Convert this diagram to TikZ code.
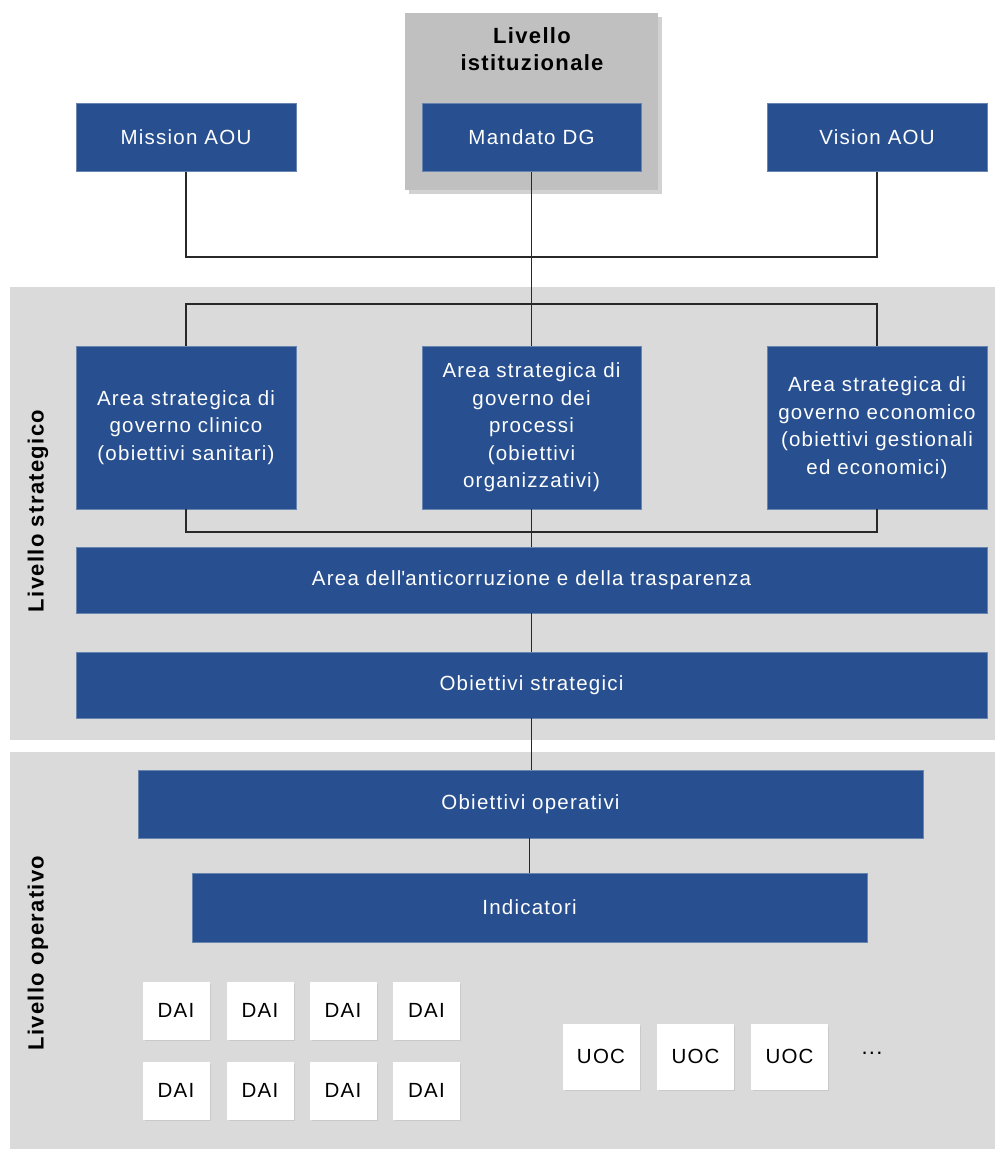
\documentclass[tikz,border=0pt]{standalone}
\usepackage{fontspec}
\setmainfont{Liberation Sans}[LetterSpace=6]
\newfontface\straightap{Liberation Sans}[LetterSpace=6, Ligatures=ResetAll]
\usetikzlibrary{shadows}
\definecolor{boxblue}{RGB}{40,80,144}
\definecolor{regiongray}{RGB}{218,218,218}
\definecolor{instgray}{RGB}{192,192,192}
\definecolor{linegray}{RGB}{40,40,40}
\tikzset{
  bluebox/.style={fill=boxblue, draw=boxblue!70!white, line width=0.6pt, text=white, inner sep=0pt, align=center,
    font=\fontsize{20.5}{27.5}\selectfont},
  whitebox/.style={fill=white, draw=white, inner sep=0pt, text=black, font=\fontsize{20.5}{24}\selectfont,
    drop shadow={opacity=0.18, shadow xshift=1.5pt, shadow yshift=-1.5pt}},
  region/.style={fill=regiongray, draw=none},
  conn/.style={draw=linegray, line width=1.2pt},
  levellabel/.style={font=\bfseries\fontsize{22}{27}\selectfont, text=black, align=center, inner sep=0pt}
}
\begin{document}
\begin{tikzpicture}[x=1pt, y=-1pt]
\useasboundingbox[fill=white] (0,0) rectangle (995,1149);

% regions
\path[region] (10,287) rectangle (995,740);
\path[region] (10,752) rectangle (995,1149);

% institutional box
\node[fill=instgray, inner sep=0pt, minimum width=253pt, minimum height=177pt,
      drop shadow={opacity=0.35, shadow xshift=4pt, shadow yshift=-4pt}] (inst) at (531.5,101.5) {};
\node[levellabel] (instlabel) at (532,49) {Livello\\istituzionale};

% top boxes
\node[bluebox, minimum width=220pt, minimum height=68pt] (mission) at (186,137.5) {Mission AOU};
\node[bluebox, minimum width=219pt, minimum height=68pt] (mandato) at (531.5,137.5) {Mandato DG};
\node[bluebox, minimum width=220pt, minimum height=68pt] (vision) at (877,137.5) {Vision AOU};

% strategic area boxes
\node[bluebox, minimum width=220pt, minimum height=163pt] (clin) at (186,427.5) {Area strategica di\\governo clinico\\(obiettivi sanitari)};
\node[bluebox, minimum width=219pt, minimum height=163pt] (proc) at (531.5,427.5) {Area strategica di\\governo dei\\processi\\(obiettivi\\organizzativi)};
\node[bluebox, minimum width=220pt, minimum height=163pt] (econ) at (877,427.5) {Area strategica di\\governo economico\\(obiettivi gestionali\\ed economici)};

% bars
\node[bluebox, minimum width=911pt, minimum height=66pt] (anti) at (531.5,580) {Area dell{\straightap '}anticorruzione e della trasparenza};
\node[bluebox, minimum width=911pt, minimum height=66pt] (ostrat) at (531.5,685) {Obiettivi strategici};
\node[bluebox, minimum width=785pt, minimum height=68pt] (ooper) at (530.5,804) {Obiettivi operativi};
\node[bluebox, minimum width=675pt, minimum height=69pt] (ind) at (529.5,907.5) {Indicatori};

% coordinates for buses
\coordinate (b1l) at (186,257);
\coordinate (b1r) at (877,257);
\coordinate (b2l) at (186,304);
\coordinate (b2r) at (877,304);
\coordinate (b2c) at (531.5,304);
\coordinate (b3l) at (186,532);
\coordinate (b3r) at (877,532);

% connectors
\draw[conn] (mission.south) -- (b1l) -- (b1r) -- (vision.south);
\draw[conn] (mandato.south) -- (b2c);
\draw[conn] (clin.north) -- (b2l) -- (b2r) -- (econ.north);
\draw[conn] (b2c) -- (proc.north);
\draw[conn] (clin.south) -- (b3l) -- (b3r) -- (econ.south);
\draw[conn] (proc.south) -- (anti.north);
\draw[conn] (anti.south) -- (ostrat.north);
\draw[conn] (ostrat.south) -- (ooper.north -| ostrat.south);
\draw[conn] (ooper.south -| ind.north) -- (ind.north);

% level labels
\node[levellabel, rotate=90] (lstrat) at (38,511) {Livello strategico};
\node[levellabel, rotate=90] (loper) at (38,953) {Livello operativo};

% DAI boxes
\node[whitebox, minimum width=66pt, minimum height=57pt] (dai1) at (176,1010.5) {DAI};
\node[whitebox, minimum width=66pt, minimum height=57pt] (dai2) at (260,1010.5) {DAI};
\node[whitebox, minimum width=66pt, minimum height=57pt] (dai3) at (343,1010.5) {DAI};
\node[whitebox, minimum width=66pt, minimum height=57pt] (dai4) at (426.5,1010.5) {DAI};
\node[whitebox, minimum width=66pt, minimum height=57pt] (dai5) at (176,1090.5) {DAI};
\node[whitebox, minimum width=66pt, minimum height=57pt] (dai6) at (260,1090.5) {DAI};
\node[whitebox, minimum width=66pt, minimum height=57pt] (dai7) at (343,1090.5) {DAI};
\node[whitebox, minimum width=66pt, minimum height=57pt] (dai8) at (426.5,1090.5) {DAI};

% UOC boxes
\node[whitebox, minimum width=76pt, minimum height=65pt] (uoc1) at (601,1056.5) {UOC};
\node[whitebox, minimum width=76pt, minimum height=65pt] (uoc2) at (695.5,1056.5) {UOC};
\node[whitebox, minimum width=76pt, minimum height=65pt] (uoc3) at (789.5,1056.5) {UOC};
\node[font=\fontsize{22}{24}\selectfont, inner sep=0pt] (dots) at (872,1053) {...};
\end{tikzpicture}
\end{document}
